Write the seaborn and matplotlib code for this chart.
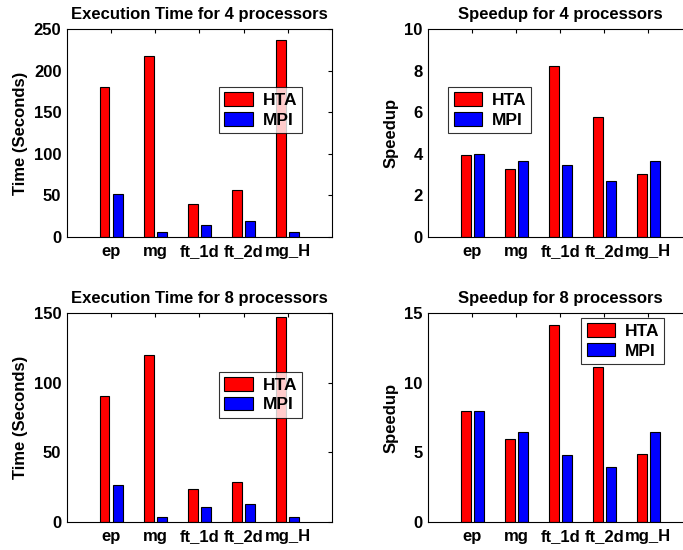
import matplotlib
matplotlib.use("Agg")
import matplotlib.pyplot as plt
import seaborn as sns
import pandas as pd

benchmarks = ["ep", "mg", "ft_1d", "ft_2d", "mg_H"]
series = ["HTA", "MPI"]

time4_hta = [180, 218, 40, 57, 237]
time4_mpi = [52, 6, 15, 19, 6]
speed4_hta = [3.96, 3.27, 8.22, 5.77, 3.03]
speed4_mpi = [4.00, 3.65, 3.45, 2.71, 3.65]

time8_hta = [90.3, 120, 23.4, 29, 147]
time8_mpi = [26.5, 3.4, 10.8, 13, 3.4]
speed8_hta = [7.95, 5.97, 14.13, 11.15, 4.86]
speed8_mpi = [7.97, 6.48, 4.82, 3.95, 6.48]


def long_table(hta, mpi):
    rows = []
    for b, h, m in zip(benchmarks, hta, mpi):
        rows.append({"bench": b, "impl": "HTA", "value": h})
        rows.append({"bench": b, "impl": "MPI", "value": m})
    return pd.DataFrame(rows)


sns.set_style("white")
plt.rcParams["font.family"] = ["Liberation Sans", "DejaVu Sans"]
plt.rcParams["font.weight"] = "bold"
for key in ["text.color", "axes.labelcolor", "xtick.color", "ytick.color"]:
    plt.rcParams[key] = "black"

fig = plt.figure(figsize=(6.83, 5.5), dpi=100)

panels = [
    ([0.098, 0.569, 0.388, 0.378], time4_hta, time4_mpi,
     "Execution Time for 4 processors", "Time (Seconds)", [0, 50, 100, 150, 200, 250],
     (0.574, 0.721)),
    ([0.627, 0.569, 0.3865, 0.378], speed4_hta, speed4_mpi,
     "Speedup for 4 processors", "Speedup", [0, 2, 4, 6, 8, 10],
     (0.076, 0.721)),
    ([0.098, 0.051, 0.388, 0.380], time8_hta, time8_mpi,
     "Execution Time for 8 processors", "Time (Seconds)", [0, 50, 100, 150],
     (0.574, 0.718)),
    ([0.627, 0.051, 0.3865, 0.380], speed8_hta, speed8_mpi,
     "Speedup for 8 processors", "Speedup", [0, 5, 10, 15],
     (0.58, 0.976)),
]

for rect, hta, mpi, title, ylabel, yticks, legpos in panels:
    ax = fig.add_axes(rect)
    df = long_table(hta, mpi)
    sns.barplot(data=df, x="bench", y="value", hue="impl", hue_order=series,
                palette={"HTA": "#ff0000", "MPI": "#0000ff"}, width=0.6, gap=0.25,
                edgecolor="black", linewidth=0.8, saturation=1, errorbar=None, ax=ax)
    ax.set_xlim(-1, 5)
    ax.set_ylim(yticks[0], yticks[-1])
    ax.set_yticks(yticks)
    ax.set_title(title, fontsize=12, fontweight="bold", pad=7)
    ax.set_ylabel(ylabel, fontsize=12, fontweight="bold", labelpad=4)
    ax.set_xlabel("")
    ax.tick_params(direction="in", length=3, width=0.8, top=True, right=True,
                   labelsize=12)
    ax.tick_params(axis="y", pad=4)
    ax.tick_params(axis="x", pad=5)
    for lab in ax.get_xticklabels() + ax.get_yticklabels():
        lab.set_fontweight("bold")
    for sp in ax.spines.values():
        sp.set_visible(True)
        sp.set_color("black")
        sp.set_linewidth(0.8)
    handles, labels = ax.get_legend_handles_labels()
    leg = ax.legend(handles, labels, loc="upper left", bbox_to_anchor=legpos,
                    frameon=True, fancybox=False, edgecolor="black",
                    prop={"size": 12.5, "weight": "bold"}, handlelength=1.65,
                    handleheight=0.85, borderpad=0.3, labelspacing=0.2,
                    handletextpad=0.55, borderaxespad=0)
    leg.get_frame().set_linewidth(0.8)

fig.savefig("out.png", dpi=100)
